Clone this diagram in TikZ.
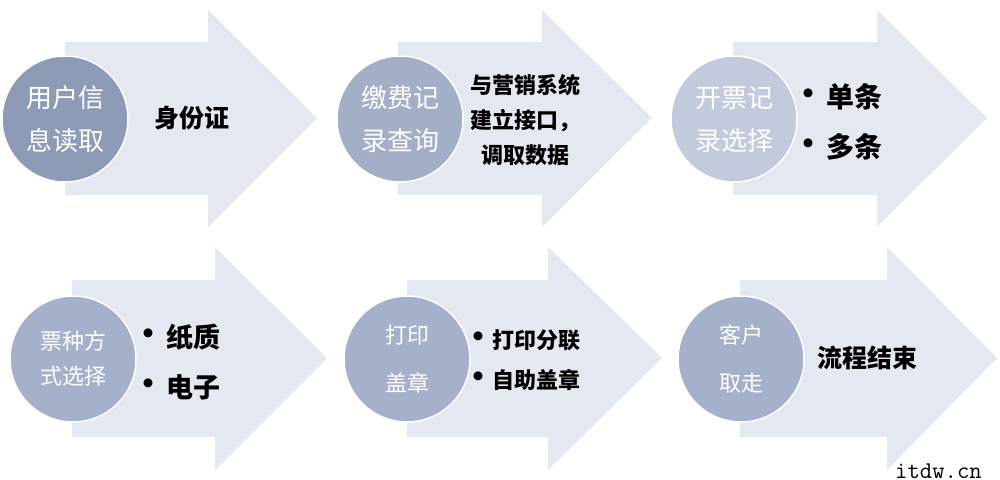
\documentclass[tikz,border=0pt]{standalone}
\usepackage{fontspec}
\newfontfamily\cjk{Noto Sans CJK SC}
\definecolor{arrowfill}{HTML}{E4E8F0}
\definecolor{circA}{HTML}{8E9BB7}
\definecolor{circB}{HTML}{A3AEC7}
\definecolor{circC}{HTML}{C2CADB}
\definecolor{circD}{HTML}{A5B1CB}
\newcommand\flowarrow[8]{%
  \fill[arrowfill] (#1,#4) -- (#2,#4) -- (#2,#6) -- (#3,#8) -- (#2,#7) -- (#2,#5) -- (#1,#5) -- cycle;}
\tikzset{
  stepcircle/.style={circle, minimum size=126pt, inner sep=0pt, draw=white, line width=1.5pt,
    text=white, align=center},
  bigcirc/.style={stepcircle, font=\cjk\fontsize{26}{43}\selectfont},
  smallcirc/.style={stepcircle, font=\cjk\fontsize{22}{48}\selectfont},
  desc/.style={inner sep=0pt, text=black, font=\cjk\bfseries\fontsize{25}{30}\selectfont},
  bulletdot/.style={inner sep=0pt, text=black, font=\cjk\bfseries\fontsize{32}{36}\selectfont},
  itemtext/.style={inner sep=0pt, anchor=west, text=black},
}
\begin{document}
\begin{tikzpicture}[x=1pt,y=-1pt]
\useasboundingbox (0,0) rectangle (1000,479);
\fill[white] (0,0) rectangle (1000,479);
% top row arrows
\flowarrow{65}{208}{317}{42}{195}{10}{227}{118}
\flowarrow{398}{542}{652}{42}{195}{10}{227}{118}
\flowarrow{733}{877}{987}{42}{195}{10}{227}{118}
% bottom row arrows
\flowarrow{72}{215}{327}{280}{437}{247}{470}{358}
\flowarrow{407}{548}{662}{280}{437}{247}{470}{358}
\flowarrow{740}{887}{997}{280}{437}{247}{470}{358}
% circles
\node[bigcirc, fill=circA] (c1) at (65,119) {用户信\\息读取};
\node[bigcirc, fill=circB] (c2) at (400,119) {缴费记\\录查询};
\node[bigcirc, fill=circC] (c3) at (734,119) {开票记\\录选择};
\node[stepcircle, fill=circD, font=\cjk\fontsize{22}{35}\selectfont] (c4) at (73,359) {票种方\\式选择};
\node[smallcirc, fill=circD] (c5) at (407,359) {打印\\盖章};
\node[smallcirc, fill=circD] (c6) at (741,359) {客户\\取走};
% descriptions
\node[desc] (d1) at (192,118) {身份证};
\node[desc, align=center, font=\cjk\bfseries\fontsize{22}{35}\selectfont] (d2) at (525,120) {与营销系统\\建立接口，\\调取数据};
\node[bulletdot] (b3a) at (808,97) {•};
\node[itemtext, font=\cjk\bfseries\fontsize{28}{32}\selectfont] (t3a) at (826,97) {单条};
\node[bulletdot] (b3b) at (808,147) {•};
\node[itemtext, font=\cjk\bfseries\fontsize{28}{32}\selectfont] (t3b) at (826,147) {多条};
\node[bulletdot] (b4a) at (148,337) {•};
\node[itemtext, font=\cjk\bfseries\fontsize{27}{32}\selectfont] (t4a) at (166,337) {纸质};
\node[bulletdot] (b4b) at (148,387) {•};
\node[itemtext, font=\cjk\bfseries\fontsize{27}{32}\selectfont] (t4b) at (166,387) {电子};
\node[bulletdot] (b5a) at (478,340) {•};
\node[itemtext, font=\cjk\bfseries\fontsize{22}{26}\selectfont] (t5a) at (492,340) {打印分联};
\node[bulletdot] (b5b) at (478,380) {•};
\node[itemtext, font=\cjk\bfseries\fontsize{22}{26}\selectfont] (t5b) at (492,380) {自助盖章};
\node[desc] (d6) at (867,358) {流程结束};
% watermark
\node[anchor=base west, inner sep=0pt, text=black, font=\ttfamily\fontsize{24}{28}\selectfont\addfontfeatures{LetterSpace=22}] (wm) at (895,478) {itdw.cn};
\end{tikzpicture}
\end{document}
